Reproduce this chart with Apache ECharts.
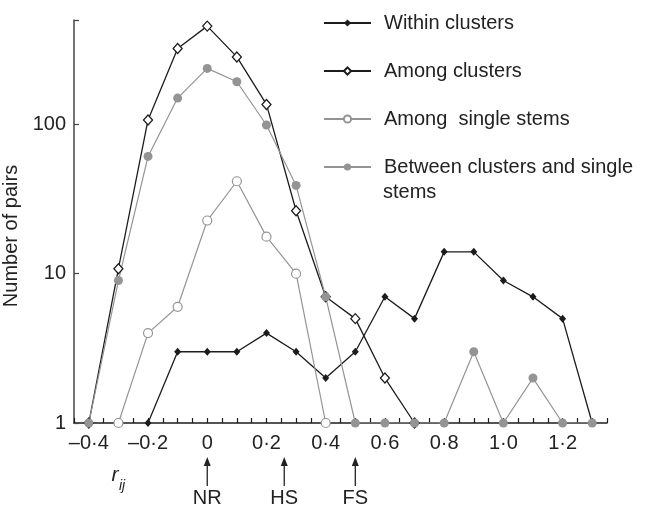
<!DOCTYPE html>
<html>
<head>
<meta charset="utf-8">
<script src="https://cdn.jsdelivr.net/npm/echarts@6/dist/echarts.min.js"></script>
<style>
html, body { margin: 0; padding: 0; background: #fff; }
#main { width: 649px; height: 510px; }
</style>
</head>
<body>
<div id="main"></div>
<script>
// r_ij bins
var rValues = [-0.4, -0.3, -0.2, -0.1, 0, 0.1, 0.2, 0.3, 0.4, 0.5, 0.6, 0.7, 0.8, 0.9, 1.0, 1.1, 1.2, 1.3];

// number of pairs per bin (null = not drawn)
var withinClusters = [null, null, 1, 3, 3, 3, 4, 3, 2, 3, 7, 5, 14, 14, 9, 7, 5, 1];
var amongClusters = [1, 10.8, 107, 322, 455, 283, 136, 26.4, 7, 5, 2, 1, null, null, null, null, null, null];
var amongSingleStems = [null, 1, 4, 6, 22.7, 41.6, 17.7, 10, 1, null, null, null, null, null, null, null, null, null];
var betweenClustersSingle = [1, 9, 61, 150, 237, 193, 99, 39, 7, 1, 1, 1, 1, 3, 1, 2, 1, 1];

var seriesNames = ['Within clusters', 'Among clusters', 'Among  single stems', 'Between clusters and single stems'];

// reference markers under the axis
var markerAt = [0, 0.26, 0.5];
var markerText = ['NR', 'HS', 'FS'];

var FONT = 'Liberation Sans, Arial, Helvetica, sans-serif';
var BLACK = '#1c1c1c';
var GREY = '#949494';

function pairs(arr) {
    var out = [];
    for (var i = 0; i < rValues.length; i++) {
        if (arr[i] != null) out.push([rValues[i], arr[i]]);
    }
    return out;
}

var chart = echarts.init(document.getElementById('main'));

var option = {
    animation: false,
    backgroundColor: '#fff',
    grid: { left: 74, right: 42, top: 20, bottom: 87, outerBoundsMode: 'none' },
    legend: {
        orient: 'vertical',
        left: 323,
        top: 13,
        padding: 0,
        itemWidth: 47,
        itemHeight: 9,
        itemGap: 28,
        selectedMode: false,
        data: seriesNames,
        textStyle: { fontFamily: FONT, fontSize: 20, color: '#222', padding: [0, 0, 0, 8] },
        formatter: function (name) {
            return name === seriesNames[3] ? 'Between clusters and single' : name;
        }
    },
    xAxis: {
        type: 'value',
        min: -0.45,
        max: 1.35,
        interval: 0.05,
        splitLine: { show: false },
        axisLine: { onZero: false, lineStyle: { color: BLACK, width: 1.5 } },
        axisTick: { inside: true, length: 5, lineStyle: { color: BLACK, width: 1.2 } },
        axisLabel: {
            fontFamily: FONT,
            fontSize: 20,
            color: '#222',
            margin: 10,
            formatter: function (v) {
                var k = v / 0.2;
                if (Math.abs(k - Math.round(k)) > 1e-6) return '';
                if (Math.abs(v) < 1e-9) return '0';
                var s = Math.abs(v).toFixed(1).replace('.', '\u00b7');
                return (v < 0 ? '\u2013' : '') + s;
            }
        }
    },
    yAxis: {
        type: 'log',
        logBase: 10,
        min: 1,
        max: 500,
        splitLine: { show: false },
        axisLine: { show: true, onZero: false, lineStyle: { color: '#444', width: 1.5 } },
        axisTick: { show: true, inside: true, length: 5, lineStyle: { color: '#444', width: 1.2 } },
        axisLabel: {
            fontFamily: FONT,
            fontSize: 20,
            color: '#222',
            margin: 8,
            formatter: function (v) {
                var l = Math.log10(v);
                return Math.abs(l - Math.round(l)) < 1e-6 ? String(Math.round(v)) : '';
            }
        },
        name: 'Number of pairs',
        nameLocation: 'middle',
        nameRotate: 90,
        nameGap: 45,
        nameTextStyle: { fontFamily: FONT, fontSize: 20, color: '#222', padding: [0, 29, 0, 0] }
    },
    series: [
        {
            name: seriesNames[0],
            type: 'line',
            data: pairs(withinClusters),
            symbol: 'diamond',
            symbolSize: [7, 8],
            itemStyle: { color: BLACK },
            lineStyle: { color: BLACK, width: 1.3 }
        },
        {
            name: seriesNames[1],
            type: 'line',
            data: pairs(amongClusters),
            symbol: 'diamond',
            symbolSize: [9, 10],
            itemStyle: { color: '#fff', borderColor: BLACK, borderWidth: 1.3 },
            lineStyle: { color: BLACK, width: 1.3 }
        },
        {
            name: seriesNames[2],
            type: 'line',
            data: pairs(amongSingleStems),
            symbol: 'circle',
            symbolSize: 9,
            itemStyle: { color: '#fff', borderColor: GREY, borderWidth: 1.2 },
            lineStyle: { color: GREY, width: 1.2 }
        },
        {
            name: seriesNames[3],
            type: 'line',
            data: pairs(betweenClustersSingle),
            symbol: 'circle',
            symbolSize: 9,
            itemStyle: { color: GREY },
            lineStyle: { color: GREY, width: 1.2 }
        }
    ]
};

chart.setOption(option);

// annotations: arrows under the x axis, r_ij, 2nd legend line
var els = [];
markerAt.forEach(function (v, i) {
    var px = chart.convertToPixel({ xAxisIndex: 0 }, v);
    els.push({
        type: 'line',
        shape: { x1: px, y1: 486, x2: px, y2: 462 },
        style: { stroke: '#222', lineWidth: 1.3 }
    });
    els.push({
        type: 'polygon',
        shape: { points: [[px - 3.5, 466], [px + 3.5, 466], [px, 457]] },
        style: { fill: '#222' }
    });
    els.push({
        type: 'text',
        x: px,
        y: 498,
        style: { text: markerText[i], fontFamily: FONT, fontSize: 20, fill: '#222', align: 'center', verticalAlign: 'middle' }
    });
});
els.push({
    type: 'text',
    x: 115,
    y: 475,
    style: { text: 'r', fontFamily: FONT, fontSize: 21, fontStyle: 'italic', fill: '#222', align: 'center', verticalAlign: 'middle' }
});
els.push({
    type: 'text',
    x: 122,
    y: 486,
    style: { text: 'ij', fontFamily: FONT, fontSize: 14, fontStyle: 'italic', fill: '#222', align: 'center', verticalAlign: 'middle' }
});
els.push({
    type: 'text',
    x: 383,
    y: 192,
    style: { text: 'stems', fontFamily: FONT, fontSize: 20, fill: '#222', align: 'left', verticalAlign: 'middle' }
});

chart.setOption({ graphic: { elements: els } });
</script>
</body>
</html>
